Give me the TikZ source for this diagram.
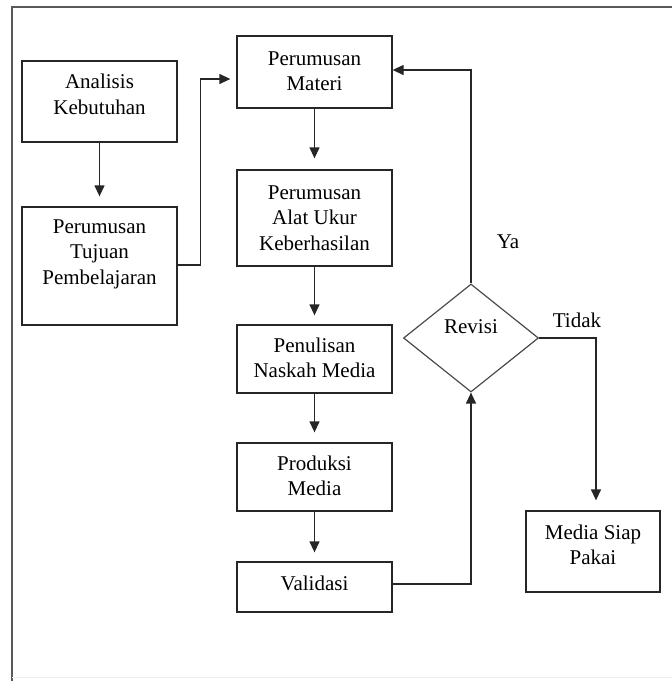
\documentclass[tikz,border=0pt]{standalone}
\usepackage{fontspec}
\setmainfont{Liberation Serif}
\usetikzlibrary{calc,shapes.geometric,arrows.meta}
\tikzset{
  flowbox/.style={draw=black!85, line width=1.3pt, inner sep=0pt, minimum width=155pt},
  flowtext/.style={align=center, inner sep=0pt, font=\rmfamily\fontsize{21}{25.5}\selectfont},
  arr/.style={-{Triangle[length=11pt,width=10pt]}, line width=1.3pt, black!85},
}

\begin{document}
\begin{tikzpicture}[x=1pt,y=-1pt]
%set bounding box
\useasboundingbox (0,0) rectangle (672,681);
%outer frame
\draw[black!65, line width=2.4pt] (672,7) -- (12,7) -- (12,681);
\draw[black!6, line width=1pt] (12,677) -- (672,677);
%left column
\node[flowbox, minimum height=81pt] (analisis) at (99.5,101.5) {};
\node[flowtext] (analisisText) at (99.5,94.5) {Analisis\\Kebutuhan};
\node[flowbox, minimum height=118pt] (tujuan) at (99.5,266) {};
\node[flowtext] (tujuanText) at (99.5,254) {Perumusan\\Tujuan\\Pembelajaran};
%middle column
\node[flowbox, minimum height=72pt] (materi) at (314.5,72) {};
\node[flowtext] (materiText) at (314.5,71) {Perumusan\\Materi};
\node[flowbox, minimum height=96pt] (alat) at (314.5,218) {};
\node[flowtext] (alatText) at (314.5,218) {Perumusan\\Alat Ukur\\Keberhasilan};
\node[flowbox, minimum height=68pt] (penulisan) at (314.5,359) {};
\node[flowtext] (penulisanText) at (314.5,358) {Penulisan\\Naskah Media};
\node[flowbox, minimum height=68pt] (produksi) at (314.5,477) {};
\node[flowtext] (produksiText) at (314.5,476) {Produksi\\Media};
\node[flowbox, minimum height=50pt] (validasi) at (314.5,587) {};
\node[flowtext] (validasiText) at (314.5,583) {Validasi};
%decision and end
\node[diamond, draw=black!70, line width=1.2pt, inner sep=0pt, minimum width=135pt, minimum height=108pt] (revisi) at (471,338) {};
\node[flowtext] (revisiText) at (471,327) {Revisi};
\node[flowbox, minimum width=134pt, minimum height=81pt] (media) at (593,551.5) {};
\node[flowtext] (mediaText) at (593,545) {Media Siap\\Pakai};
%connectors
\coordinate (inMateri) at ($(materi.west)+(0,7)$);
\draw[arr, shorten >=10pt] (analisis.south) -- (tujuan.north);
\draw[arr, shorten >=6pt] ($(tujuan.east)+(0,-1)$) -- ++(23,0) |- (inMateri);
\draw[arr, shorten >=11pt] (materi.south) -- (alat.north);
\draw[arr, shorten >=9pt] (alat.south) -- (penulisan.north);
\draw[arr, shorten >=10pt] (penulisan.south) -- (produksi.north);
\draw[arr, shorten >=9pt] (produksi.south) -- (validasi.north);
\draw[arr] ($(validasi.east)+(0,-3)$) -| (revisi.south);
\draw[arr] (revisi.north) |- ($(materi.east)+(0,-2)$);
\draw[arr, shorten >=10pt] (revisi.east) -| ($(media.north)+(3,0)$);
%branch labels
\node[flowtext] (ya) at (508,242) {Ya};
\node[flowtext] (tidak) at (577,320) {Tidak};
\end{tikzpicture}
\end{document}
